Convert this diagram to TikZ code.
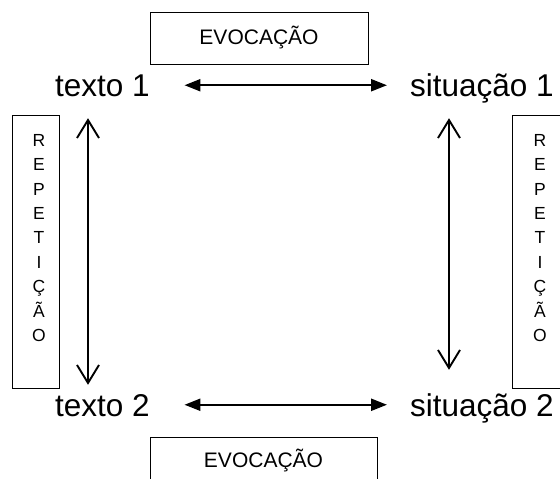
\documentclass[tikz,border=0pt]{standalone}
\usepackage{fontspec}
\setmainfont{Liberation Sans}
\usetikzlibrary{arrows.meta}
\begin{document}
\begin{tikzpicture}[x=1pt,y=-1pt,
  lbl/.style={font=\fontsize{31.5}{38}\selectfont, inner sep=0pt, text height=22.5pt, text depth=0pt, anchor=base west},
  evbox/.style={draw, line width=0.8pt, inner sep=0pt, font=\fontsize{21}{25}\selectfont},
  repbox/.style={draw, line width=0.8pt, inner sep=0pt},
  reptext/.style={font=\fontsize{17.5}{24.4}\selectfont, align=center, inner sep=0pt},
  harrow/.style={line width=2.2pt, {Triangle[length=16pt,width=12pt]}-{Triangle[length=16pt,width=12pt]}},
  varrow/.style={line width=1.9pt, {Straight Barb[length=18pt,width=22pt]}-{Straight Barb[length=18pt,width=22pt]}}]
\useasboundingbox (0,0) rectangle (560,479);
\clip (0,0) rectangle (560,479);
\fill[white] (0,0) rectangle (560,479);

% labels
\node[lbl] (t1) at (55,96.5) {texto 1};
\node[lbl] (s1) at (410,96.5) {situação 1};
\node[lbl] (t2) at (55,416) {texto 2};
\node[lbl] (s2) at (410,416) {situação 2};

% evocação boxes
\node[evbox, minimum width=218pt, minimum height=52pt] (ev1) at (259,38) {EVOCAÇÃO};
\node[evbox, minimum width=227pt, minimum height=48pt] (ev2) at (263.5,461) {EVOCAÇÃO};

% repetição boxes
\node[repbox, minimum width=47pt, minimum height=273pt] (rep1) at (35.5,251.5) {};
\node[reptext] (rep1t) at (39,238) {R\\E\\P\\E\\T\\I\\Ç\\Ã\\O};
\node[repbox, minimum width=60pt, minimum height=273pt] (rep2) at (542,251.5) {};
\node[reptext] (rep2t) at (540,238) {R\\E\\P\\E\\T\\I\\Ç\\Ã\\O};

% arrows
\draw[harrow, shorten <=34.5pt, shorten >=23pt] (t1.east) -- (s1.west);
\draw[harrow, shorten <=34.5pt, shorten >=23pt] (t2.east) -- (s2.west);
\draw[varrow, shorten <=21.5pt, shorten >=8.5pt] ([xshift=33pt]t1.south west) -- ([xshift=33pt]t2.north west);
\draw[varrow, shorten <=21.5pt, shorten >=23.5pt] ([xshift=39pt]s1.south west) -- ([xshift=39pt]s2.north west);
\end{tikzpicture}
\end{document}
